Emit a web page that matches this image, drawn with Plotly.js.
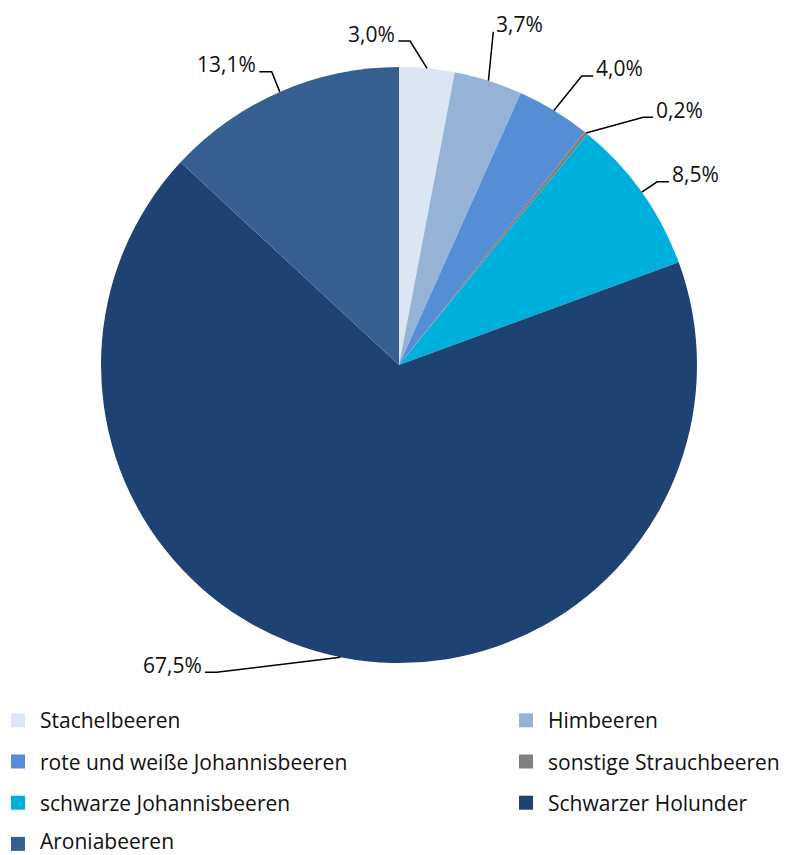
<!DOCTYPE html>
<html><head><meta charset="utf-8">
<script src="https://cdn.plot.ly/plotly-3.0.1.min.js"></script>
<style>html,body{margin:0;padding:0;background:#fff}#chart{width:790px;height:855px}</style>
</head><body><div id="chart"></div>
<script>
// ---- data ----
const categories = ['Stachelbeeren','Himbeeren','rote und weiße Johannisbeeren','sonstige Strauchbeeren','schwarze Johannisbeeren','Schwarzer Holunder','Aroniabeeren'];
const shares = [3.0, 3.7, 4.0, 0.2, 8.5, 67.5, 13.1];
const colors = ['#dce6f2','#95b3d7','#558ed5','#808080','#00b0dc','#1e4373','#376092'];

// ---- layout constants (px) ----
const W = 790, H = 855, CX = 399, CY = 365, R = 298;
const FONT = '"Open Sans", Lato, sans-serif';
const FS = 21;
// leader line offsets: elbow dx, dy from slice edge, then horizontal run
const leader = [[-17,-27.3,-11.7],[4.9,-49,0],[27.8,-34.5,11.6],[57.2,-15.7,10],[15.5,-10.3,11.7],[-123.7,15.1,-11.7],[-8.1,-20.2,-12.4]];
const legendCols = [11, 519], legendTextOff = 28, legendRow0 = 720.3, legendRowGap = 41.2, sq = 14;

const fx = px => px / W, fy = py => 1 - py / H;
const total = shares.reduce((a,b)=>a+b,0);
const fmt = v => v.toFixed(1).replace('.', ',') + '%';

const shapes = [], annotations = [];
let cum = 0;
shares.forEach((v, i) => {
  const th = 2 * Math.PI * (cum + v / 2) / total;
  cum += v;
  const x0 = CX + R * Math.sin(th), y0 = CY - R * Math.cos(th);
  const [dx, dy, hl] = leader[i];
  const x1 = x0 + dx, y1 = y0 + dy, x2 = x1 + hl;
  const side = hl !== 0 ? Math.sign(hl) : Math.sign(dx);
  shapes.push({type:'path', xref:'paper', yref:'paper',
    path:`M ${fx(x0)} ${fy(y0)} L ${fx(x1)} ${fy(y1)} L ${fx(x2)} ${fy(y1)}`,
    line:{color:'#000', width:1.5}});
  annotations.push({xref:'paper', yref:'paper', x: fx(x2 + side * 2), y: fy(y1 - 7.5),
    xanchor: side > 0 ? 'left' : 'right', yanchor:'middle', showarrow:false, borderpad:0,
    text: fmt(v), font:{family:FONT, size:FS, color:'#111'}});
});

const maxTextY = H - FS * 0.68;
categories.forEach((c, i) => {
  const col = i % 2, row = Math.floor(i / 2);
  const cy = legendRow0 + row * legendRowGap, x = legendCols[col];
  shapes.push({type:'rect', xref:'paper', yref:'paper', x0: fx(x), x1: fx(x + sq),
    y0: fy(cy + sq/2), y1: fy(cy - sq/2), fillcolor: colors[i], line:{width:0}});
  annotations.push({xref:'paper', yref:'paper', x: fx(x + legendTextOff), y: fy(Math.min(cy, maxTextY)),
    xanchor:'left', yanchor:'middle', showarrow:false, text:c, borderpad:0,
    font:{family:FONT, size:FS, color:'#111'}});
});

const trace = {
  type:'pie', labels: categories, values: shares, sort:false, direction:'clockwise', rotation:0,
  marker:{colors: colors, line:{width:0}}, textinfo:'none', hoverinfo:'label+percent',
  domain:{x:[fx(CX - R), fx(CX + R)], y:[fy(CY + R), fy(CY - R)]}, showlegend:false
};

Plotly.newPlot('chart', [trace], {
  width:W, height:H, margin:{l:0,r:0,t:0,b:0}, paper_bgcolor:'#fff',
  showlegend:false, shapes, annotations, font:{family:FONT}
}, {displayModeBar:false, staticPlot:true});
</script></body></html>
